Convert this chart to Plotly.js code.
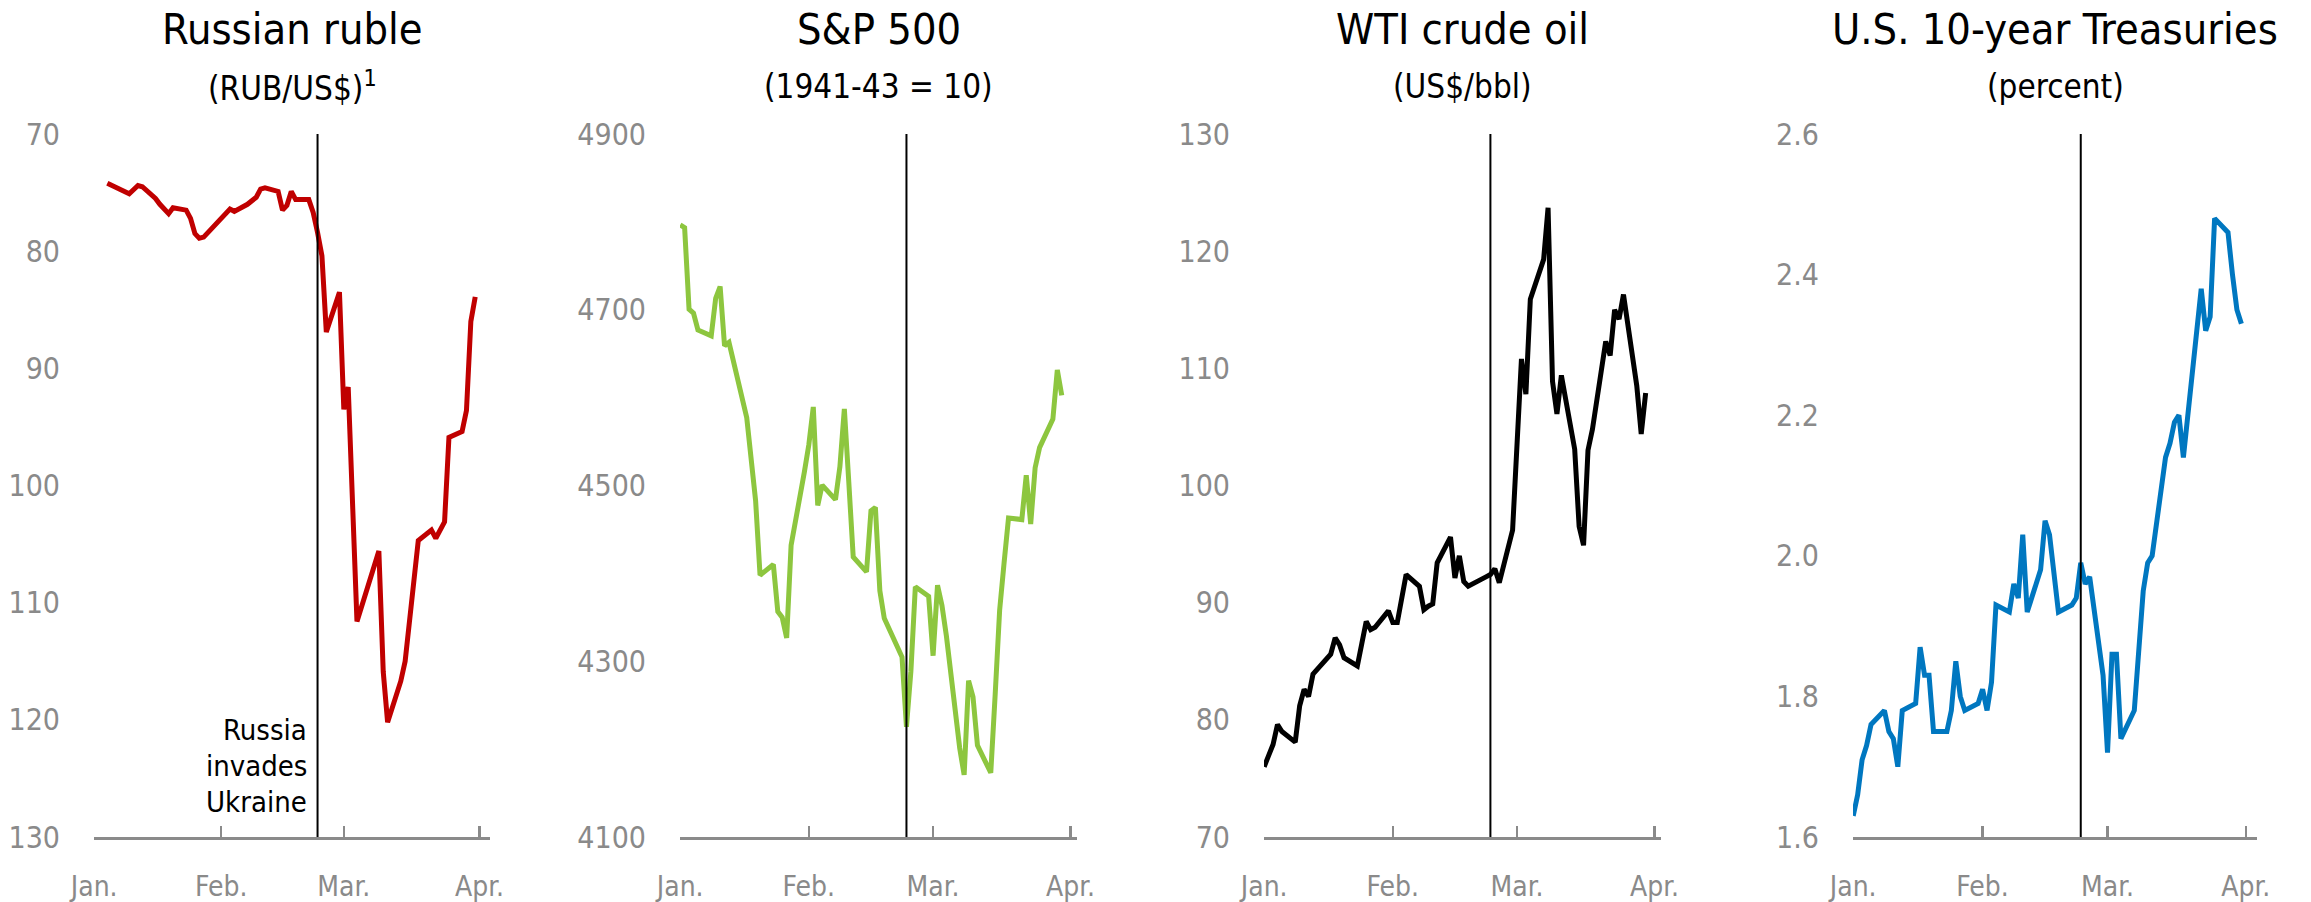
<!DOCTYPE html>
<html>
<head>
<meta charset="utf-8">
<script src="https://cdn.plot.ly/plotly-3.0.1.min.js"></script>
<style>
html,body{margin:0;padding:0;background:#ffffff;}
#chart{width:2311px;height:902px;}
</style>
</head>
<body>
<div id="chart"></div>
<script>
// ---------------- data ----------------
const panelTitles = ['Russian ruble', 'S&P 500', 'WTI crude oil', 'U.S. 10-year Treasuries'];
const panelSubtitles = ['(RUB/US$)<sup>1</sup>', '(1941-43 = 10)', '(US$/bbl)', '(percent)'];
const monthTickDates = ['2022-01-03', '2022-02-01', '2022-03-01', '2022-04-01'];
const monthTickLabels = ['Jan.', 'Feb.', 'Mar.', 'Apr.'];
const invasionDate = '2022-02-23';
const invasionLabel = ['Russia', 'invades', 'Ukraine'];

const rubleDates = ['2022-01-06','2022-01-11','2022-01-13','2022-01-14','2022-01-17','2022-01-18','2022-01-20','2022-01-21',
  '2022-01-24','2022-01-25','2022-01-26','2022-01-27','2022-01-28','2022-02-01','2022-02-03','2022-02-04','2022-02-07',
  '2022-02-09','2022-02-10','2022-02-11','2022-02-14','2022-02-15','2022-02-16','2022-02-17','2022-02-18','2022-02-21',
  '2022-02-22','2022-02-23','2022-02-24','2022-02-25','2022-02-28','2022-03-01','2022-03-02','2022-03-04','2022-03-09',
  '2022-03-10','2022-03-11','2022-03-14','2022-03-15','2022-03-18','2022-03-21','2022-03-22','2022-03-24','2022-03-25',
  '2022-03-28','2022-03-29','2022-03-30','2022-03-31'];
const rubleValues = [74.2,75.1,74.4,74.5,75.5,76.0,76.8,76.3,
  76.5,77.2,78.5,78.9,78.8,77.2,76.4,76.6,76.0,
  75.4,74.7,74.6,74.9,76.5,76.1,74.9,75.6,75.6,
  76.7,78.4,80.4,86.9,83.5,93.5,91.6,111.6,105.6,
  115.9,120.2,116.7,115.0,104.7,103.8,104.5,103.1,95.9,
  95.4,93.6,86.0,83.9];

const spDates = ['2022-01-03','2022-01-04','2022-01-05','2022-01-06','2022-01-07','2022-01-10','2022-01-11','2022-01-12',
  '2022-01-13','2022-01-14','2022-01-18','2022-01-19','2022-01-20','2022-01-21','2022-01-24','2022-01-25','2022-01-26',
  '2022-01-27','2022-01-28','2022-01-31','2022-02-01','2022-02-02','2022-02-03','2022-02-04','2022-02-07','2022-02-08',
  '2022-02-09','2022-02-10','2022-02-11','2022-02-14','2022-02-15','2022-02-16','2022-02-17','2022-02-18','2022-02-22',
  '2022-02-23','2022-02-24','2022-02-25','2022-02-28','2022-03-01','2022-03-02','2022-03-03','2022-03-04','2022-03-07',
  '2022-03-08','2022-03-09','2022-03-10','2022-03-11','2022-03-14','2022-03-15','2022-03-16','2022-03-17','2022-03-18',
  '2022-03-21','2022-03-22','2022-03-23','2022-03-24','2022-03-25','2022-03-28','2022-03-29','2022-03-30'];
const spValues = [4796.6,4793.5,4700.6,4696.1,4677.0,4670.3,4713.1,4726.4,
  4659.0,4662.9,4577.1,4532.8,4482.7,4397.9,4410.1,4356.5,4349.9,
  4326.5,4431.9,4515.6,4546.5,4589.4,4477.4,4500.5,4483.9,4521.5,
  4587.2,4504.1,4418.6,4401.7,4471.1,4475.0,4380.3,4348.9,4304.8,
  4225.5,4288.7,4384.7,4373.9,4306.3,4386.5,4363.5,4328.9,4201.1,
  4170.7,4277.9,4259.5,4204.3,4173.1,4262.5,4357.9,4411.7,4463.1,
  4461.2,4511.6,4456.2,4520.2,4543.1,4575.5,4631.6,4602.5];

const oilDates = ['2022-01-03','2022-01-04','2022-01-05','2022-01-06','2022-01-07','2022-01-10','2022-01-11','2022-01-12',
  '2022-01-13','2022-01-14','2022-01-18','2022-01-19','2022-01-20','2022-01-21','2022-01-24','2022-01-25','2022-01-26',
  '2022-01-27','2022-01-28','2022-01-31','2022-02-01','2022-02-02','2022-02-03','2022-02-04','2022-02-07','2022-02-08',
  '2022-02-09','2022-02-10','2022-02-11','2022-02-14','2022-02-15','2022-02-16','2022-02-17','2022-02-18','2022-02-22',
  '2022-02-23','2022-02-24','2022-02-25','2022-02-28','2022-03-01','2022-03-02','2022-03-03','2022-03-04','2022-03-07',
  '2022-03-08','2022-03-09','2022-03-10','2022-03-11','2022-03-14','2022-03-15','2022-03-16','2022-03-17','2022-03-18',
  '2022-03-21','2022-03-22','2022-03-23','2022-03-24','2022-03-25','2022-03-28','2022-03-29','2022-03-30'];
const oilValues = [76.0,77.0,77.9,79.6,79.0,78.1,81.2,82.6,
  82.0,83.9,85.6,87.0,86.4,85.3,84.6,86.5,88.4,
  87.7,87.9,89.3,88.3,88.3,90.3,92.4,91.4,89.4,
  89.7,89.9,93.4,95.6,92.1,94.0,91.8,91.4,92.2,
  92.4,92.9,91.7,96.2,103.4,110.8,107.8,115.9,119.3,
  123.7,108.9,106.1,109.4,103.1,96.5,94.9,103.0,104.8,
  112.3,111.1,115.0,114.2,116.3,108.5,104.4,107.9];

const ustDates = ['2022-01-03','2022-01-04','2022-01-05','2022-01-06','2022-01-07','2022-01-10','2022-01-11','2022-01-12',
  '2022-01-13','2022-01-14','2022-01-17','2022-01-18','2022-01-19','2022-01-20','2022-01-21','2022-01-24','2022-01-25',
  '2022-01-26','2022-01-27','2022-01-28','2022-01-31','2022-02-01','2022-02-02','2022-02-03','2022-02-04','2022-02-07',
  '2022-02-08','2022-02-09','2022-02-10','2022-02-11','2022-02-14','2022-02-15','2022-02-16','2022-02-17','2022-02-18',
  '2022-02-21','2022-02-22','2022-02-23','2022-02-24','2022-02-25','2022-02-28','2022-03-01','2022-03-02','2022-03-03',
  '2022-03-04','2022-03-07','2022-03-08','2022-03-09','2022-03-10','2022-03-11','2022-03-14','2022-03-15','2022-03-16',
  '2022-03-17','2022-03-18','2022-03-21','2022-03-22','2022-03-23','2022-03-24','2022-03-25','2022-03-28','2022-03-29',
  '2022-03-30','2022-03-31'];
const ustValues = [1.63,1.66,1.71,1.73,1.76,1.78,1.75,1.74,
  1.70,1.78,1.79,1.87,1.83,1.83,1.75,1.75,1.78,
  1.85,1.80,1.78,1.79,1.81,1.78,1.82,1.93,1.92,
  1.96,1.94,2.03,1.92,1.98,2.05,2.03,1.97,1.92,
  1.93,1.94,1.99,1.96,1.97,1.83,1.72,1.86,1.86,
  1.74,1.78,1.87,1.95,1.99,2.00,2.14,2.16,2.19,
  2.20,2.14,2.32,2.38,2.32,2.34,2.48,2.46,2.40,
  2.35,2.33];

// ---------------- styling ----------------
const FONT = '"DejaVu Sans Condensed", "Liberation Sans Narrow", "DejaVu Sans", sans-serif';
const GRAY = '#8a8a8a';
const W = 2311, H = 902;

const panels = [
  {x: rubleDates, y: rubleValues, color: '#c00000', dom: [94, 490], end: '2022-04-03 09:00', yr: [130, 70], dtick: 10, fmt: ''},
  {x: spDates, y: spValues, color: '#8dc63f', dom: [680, 1077], end: '2022-04-02 10:30', yr: [4100, 4900], dtick: 200, fmt: ''},
  {x: oilDates, y: oilValues, color: '#000000', dom: [1264, 1661], end: '2022-04-02 11:00', yr: [70, 130], dtick: 10, fmt: ''},
  {x: ustDates, y: ustValues, color: '#0077c0', dom: [1853, 2257], end: '2022-04-03 12:00', yr: [1.6, 2.6], dtick: 0.2, fmt: '.1f'}
];

const plotTop = 134, plotBottom = 837;
const yDomain = [(H - plotBottom) / H, (H - plotTop) / H];

const traces = [];
const layout = {
  width: W, height: H,
  margin: {l: 0, r: 0, t: 0, b: 0},
  paper_bgcolor: '#ffffff', plot_bgcolor: '#ffffff',
  showlegend: false,
  font: {family: FONT, color: '#000000'},
  shapes: [], annotations: []
};

panels.forEach((p, i) => {
  const n = i === 0 ? '' : String(i + 1);
  traces.push({
    x: p.x, y: p.y, type: 'scatter', mode: 'lines',
    xaxis: 'x' + n, yaxis: 'y' + n,
    line: {color: p.color, width: 5},
    hoverinfo: 'skip'
  });
  layout['xaxis' + n] = {
    domain: [p.dom[0] / W, p.dom[1] / W],
    anchor: 'y' + n,
    type: 'date',
    range: ['2022-01-02 23:00', p.end],
    tickmode: 'array', tickvals: monthTickDates, ticktext: monthTickLabels,
    ticks: 'inside', ticklen: 11, tickwidth: 2.4, tickcolor: GRAY,
    showline: true, linecolor: GRAY, linewidth: 2.6,
    showgrid: false, zeroline: false,
    tickfont: {family: FONT, size: 28, color: GRAY},
    ticklabelstandoff: 23,
    fixedrange: true
  };
  layout['yaxis' + n] = {
    domain: yDomain,
    anchor: 'x' + n,
    range: p.yr,
    tickmode: 'linear', tick0: Math.min(p.yr[0], p.yr[1]), dtick: p.dtick,
    tickformat: p.fmt,
    showline: false, ticks: '', showgrid: false, zeroline: false,
    tickfont: {family: FONT, size: 30, color: GRAY},
    ticklabelstandoff: 33,
    fixedrange: true
  };
  layout.shapes.push({
    type: 'line', xref: 'x' + n, yref: 'y' + n + ' domain',
    x0: invasionDate, x1: invasionDate, y0: 0, y1: 1,
    line: {color: '#000000', width: 2}
  });
  const cx = (p.dom[0] + p.dom[1]) / 2 / W;
  layout.annotations.push({
    xref: 'paper', yref: 'paper', x: cx, y: 1 - 29 / H,
    xanchor: 'center', yanchor: 'middle', showarrow: false,
    text: panelTitles[i], font: {family: FONT, size: 43, color: '#000000'}
  });
  layout.annotations.push({
    xref: 'paper', yref: 'paper', x: cx, y: 1 - 87 / H,
    xanchor: 'center', yanchor: 'middle', showarrow: false,
    text: panelSubtitles[i], font: {family: FONT, size: 33, color: '#000000'}
  });
});

const labelCenters = [730, 766, 802];
invasionLabel.forEach((t, k) => {
  layout.annotations.push({
    xref: 'x', yref: 'paper', x: invasionDate, y: 1 - labelCenters[k] / H,
    xanchor: 'right', yanchor: 'middle', xshift: -9, showarrow: false,
    text: t, font: {family: FONT, size: 29, color: '#000000'}
  });
});

Plotly.newPlot('chart', traces, layout, {staticPlot: true, displayModeBar: false});
</script>
</body>
</html>
